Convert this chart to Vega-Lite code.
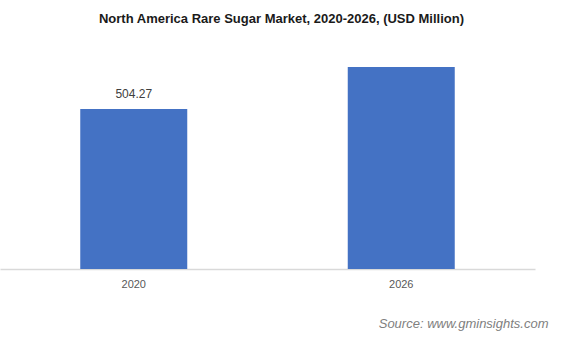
{
  "$schema": "https://vega.github.io/schema/vega-lite/v6.json",
  "autosize": "none",
  "width": 535,
  "height": 229,
  "padding": {"left": 0, "top": 40, "right": 29, "bottom": 68},
  "background": "white",
  "title": {
    "text": "North America Rare Sugar Market, 2020-2026, (USD Million)",
    "font": "Liberation Sans",
    "fontSize": 13,
    "fontWeight": "bold",
    "color": "#1a1a1a",
    "anchor": "middle",
    "baseline": "alphabetic",
    "offset": 18,
    "dx": 14,
    "dy": 14
  },
  "data": {
    "values": [
      {"year": "2020", "value": 504.27, "label": "504.27"},
      {"year": "2026", "value": 636.6, "label": ""}
    ]
  },
  "encoding": {
    "x": {
      "field": "year",
      "type": "nominal",
      "sort": null,
      "scale": {"paddingInner": 0.6, "paddingOuter": 0.3},
      "axis": {
        "labelAngle": 0,
        "ticks": false,
        "domainColor": "#d9d9d9",
        "domainWidth": 1.5,
        "labelFont": "Liberation Sans",
        "labelFontSize": 11,
        "labelColor": "#595959",
        "labelPadding": 9,
        "title": "Source: www.gminsights.com",
        "titleFont": "Liberation Sans",
        "titleFontSize": 13,
        "titleFontStyle": "italic",
        "titleFontWeight": "normal",
        "titleColor": "#808080",
        "titleAlign": "right",
        "titleAnchor": "end",
        "titleBaseline": "alphabetic",
        "titleX": 548,
        "titleY": 58
      }
    },
    "y": {
      "field": "value",
      "type": "quantitative",
      "scale": {"domain": [0, 721.7], "nice": false},
      "axis": null
    }
  },
  "layer": [
    {"mark": {"type": "bar", "color": "#4472c4"}},
    {
      "mark": {
        "type": "text",
        "baseline": "bottom",
        "dy": -8,
        "font": "Liberation Sans",
        "fontSize": 12,
        "color": "#404040"
      },
      "encoding": {"text": {"field": "label"}}
    }
  ],
  "config": {"view": {"stroke": null}}
}
